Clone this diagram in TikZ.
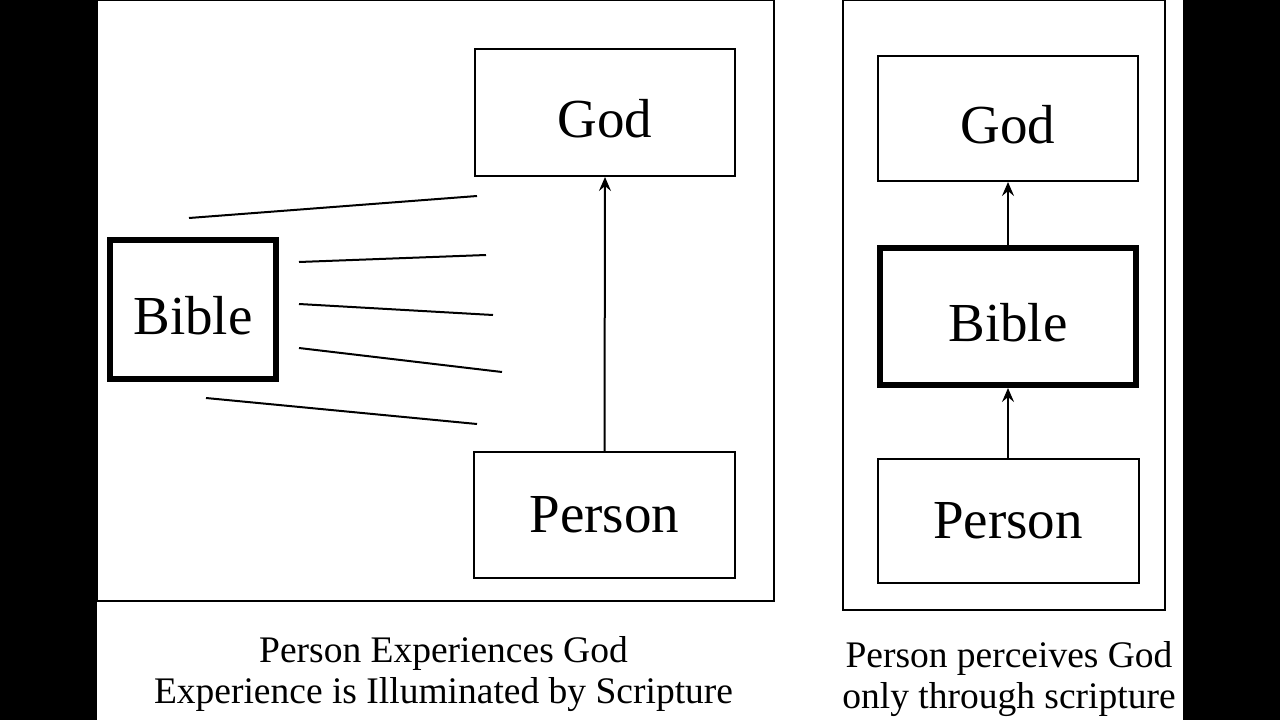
\documentclass[tikz,border=0pt]{standalone}
\usepackage{fontspec}
\setmainfont{Liberation Serif}
\usepackage{tikz}
\usetikzlibrary{positioning, arrows.meta}

\begin{document}
\begin{tikzpicture}[
    x=1pt, y=-1pt,
    box/.style={rectangle, draw, line width=2pt, inner sep=0pt, font=\fontsize{55}{60}\selectfont},
    thickbox/.style={box, line width=6pt},
    lowtext/.style={text height=50pt, text depth=0pt},
    arrow/.style={-{Stealth[length=14pt, width=12pt, inset=5pt]}, line width=2pt},
    ray/.style={line width=2pt},
    frame/.style={draw, line width=2pt},
    caption/.style={align=center, font=\fontsize{37.5}{41}\selectfont}
]
\useasboundingbox (0,0) rectangle (1280,720);
\fill[black] (0,0) rectangle (97,720);
\fill[black] (1183,0) rectangle (1280,720);

% left panel: experience lit by scripture
\draw[frame] (97,0) rectangle (774,601);
\node[box, lowtext, minimum width=260pt, minimum height=127pt] (lgod) at (605,112.5) {God};
\node[box, minimum width=261pt, minimum height=126pt] (lperson) at (604.5,515) {Person};
\node[thickbox, lowtext, minimum width=166pt, minimum height=139pt] (lbible) at (193,309.5) {Bible};
\draw[arrow] (lperson.north) -- (lgod.south);
\foreach \i/\xa/\ya/\xb/\yb in {1/189/218/477/196, 2/299/262/486/255, 3/299/304/493/315, 4/299/348/502/372, 5/206/398/477/424} {
    \coordinate (ray\i a) at (\xa,\ya);
    \coordinate (ray\i b) at (\xb,\yb);
    \draw[ray] (ray\i a) -- (ray\i b);
}
\node[caption] (lcap) at (443.5,674) {Person Experiences God\\Experience is Illuminated by Scripture};

% right panel: only through scripture
\draw[frame] (843,0) rectangle (1165,610);
\node[box, lowtext, minimum width=260pt, minimum height=125pt] (rgod) at (1008,118.5) {God};
\node[thickbox, lowtext, minimum width=256pt, minimum height=137pt, below=63pt of rgod] (rbible) {Bible};
\node[box, minimum width=261pt, minimum height=124pt, below=70pt of rbible] (rperson) {Person};
\draw[arrow] (rbible) -- (rgod);
\draw[arrow] (rperson) -- (rbible);
\node[caption] (rcap) at (1009,679) {Person perceives God\\only through scripture};
\end{tikzpicture}
\end{document}
